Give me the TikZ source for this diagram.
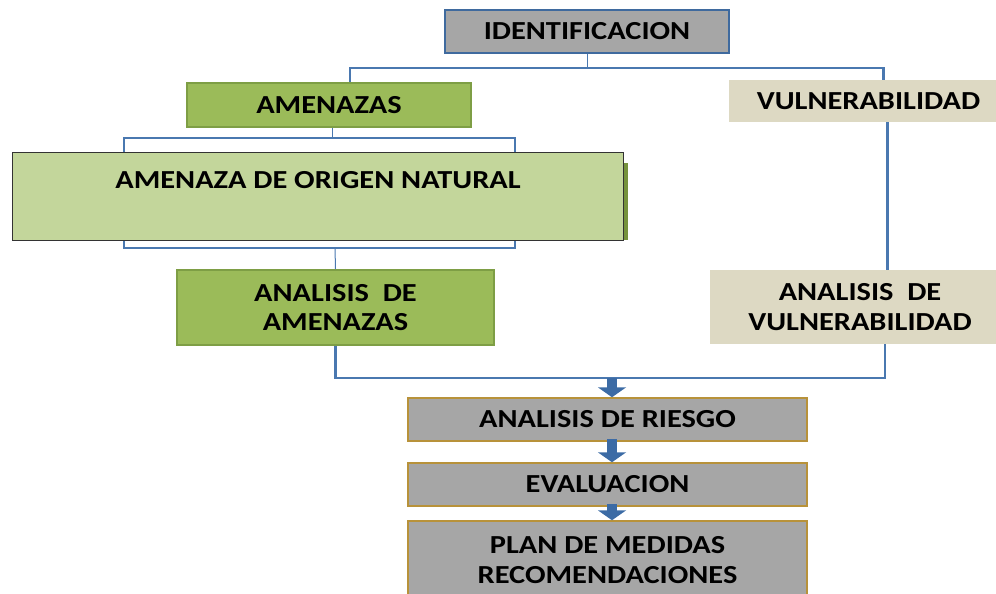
\documentclass[tikz,border=0pt]{standalone}
\usepackage{fontspec}
\setmainfont{Carlito}[FakeStretch=1.17]
\usetikzlibrary{arrows.meta}
\definecolor{grayf}{HTML}{A6A6A6}
\definecolor{identb}{HTML}{3F6A9E}
\definecolor{greenf}{HTML}{9BBB59}
\definecolor{greenb}{HTML}{7E9E45}
\definecolor{lightg}{HTML}{C3D69B}
\definecolor{darkg}{HTML}{76923C}
\definecolor{beige}{HTML}{DDD9C3}
\definecolor{goldb}{HTML}{B8923A}
\definecolor{linec}{HTML}{4A78B0}
\definecolor{arrc}{HTML}{3C6BA5}
\tikzset{
  box/.style={rectangle, inner sep=0pt, align=center, font=\fontsize{26}{29.5}\selectfont\bfseries, text=black},
  graybox/.style={box, fill=grayf, draw=goldb, line width=1.5pt, minimum width=399pt, minimum height=43pt},
  conn/.style={draw=linec, line width=2.5pt},
  thinconn/.style={draw=linec, line width=1pt},
  blockarrow/.style={draw=arrc, line width=10pt, -{Triangle[width=28pt,length=10pt]}},
}
\begin{document}
\begin{tikzpicture}[x=1pt,y=-1pt]
\useasboundingbox (0,0) rectangle (996,594);
\clip (0,0) rectangle (996,594);
% boxes
\node[box, fill=grayf, draw=identb, line width=2.5pt, minimum width=284pt, minimum height=43pt] (ident) at (587,31.5) {IDENTIFICACION};
\node[box, fill=greenf, draw=greenb, line width=2pt, minimum width=284pt, minimum height=44pt] (amen) at (329,105) {AMENAZAS};
\node[box, fill=beige, minimum width=267pt, minimum height=42pt] (vuln) at (862.5,101) {\hspace*{12pt}VULNERABILIDAD};
\fill[darkg] (622,163) rectangle (628,240);
\node[box, fill=lightg, draw=black!80, line width=1pt, minimum width=611pt, minimum height=88pt] (nat) at (317.5,196) {};
\node[box] (natt) at (318,180) {AMENAZA DE ORIGEN NATURAL};
\node[box, fill=greenf, draw=greenb, line width=2pt, minimum width=317pt, minimum height=75pt] (anam) at (335.5,307.5) {ANALISIS\ \ DE\\AMENAZAS};
\node[box, fill=beige, minimum width=300pt, minimum height=74pt] (anvu) at (860,307) {ANALISIS\ \ DE\\VULNERABILIDAD};
\node[graybox] (riesgo) at (607.5,419.5) {ANALISIS DE RIESGO};
\node[graybox] (eval) at (607.5,484.5) {EVALUACION};
\node[graybox, minimum height=80pt] (plan) at (607.5,561) {};
\node[box] (plant) at (607.5,560) {PLAN DE MEDIDAS\\RECOMENDACIONES};
% connectors
\coordinate (j1) at (587,68);
\coordinate (j2) at (332,138);
\coordinate (j3) at (335,248);
\coordinate (j4) at (612,378);
\draw[thinconn] (ident.south) -- (j1);
\draw[conn] ([xshift=21pt]amen.north) |- (j1) -| ([xshift=21pt]vuln.north);
\draw[thinconn] ([xshift=3pt]amen.south) -- (j2);
\draw[conn] ([xshift=-193.5pt]nat.north) |- (j2) -| ([xshift=197.5pt]nat.north);
\draw[conn] ([xshift=-193.5pt]nat.south) |- (j3) -| ([xshift=197.5pt]nat.south);
\draw[thinconn] (j3) -- (anam.north);
\draw[conn] ([xshift=25pt]vuln.south) -- ([xshift=27.5pt]anvu.north);
\draw[conn] (anam.south) |- (j4) -| ([xshift=25pt]anvu.south);
\draw[blockarrow] (j4) -- ([xshift=4.5pt]riesgo.north);
\draw[blockarrow] ([xshift=4.5pt,yshift=3pt]riesgo.south) -- ([xshift=4.5pt]eval.north);
\draw[blockarrow] ([xshift=4.5pt,yshift=3pt]eval.south) -- ([xshift=4.5pt]plan.north);
\end{tikzpicture}
\end{document}
